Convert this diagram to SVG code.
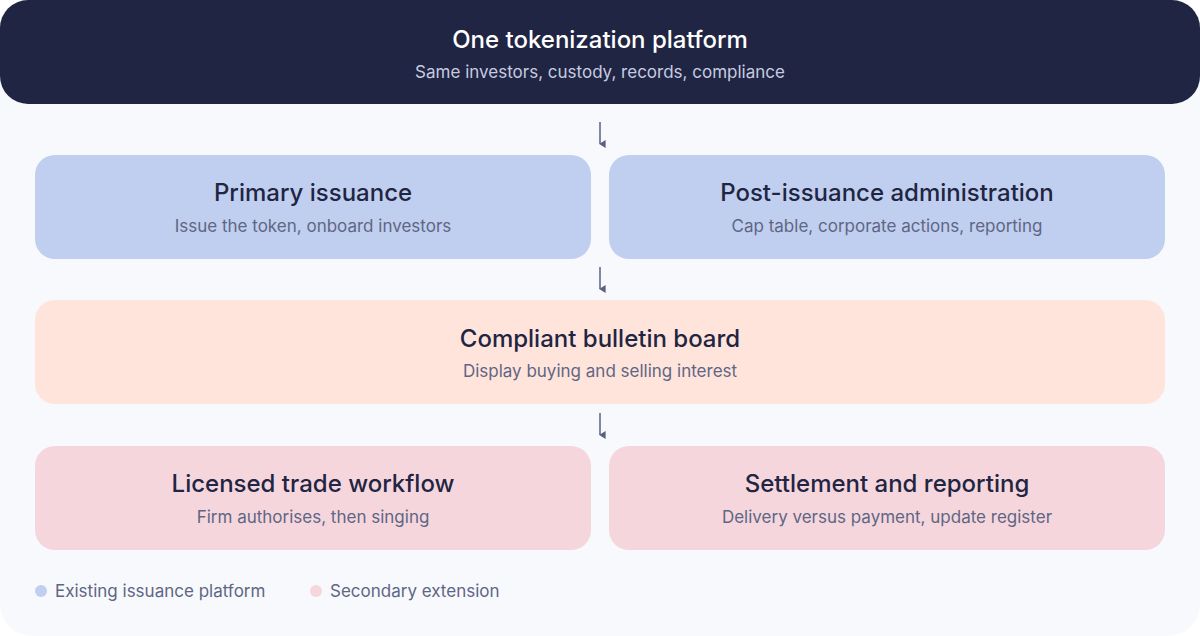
<svg xmlns="http://www.w3.org/2000/svg" width="1200" height="636" viewBox="0 0 1200 636">
<defs>
<style>
.t{font-family:Inter,"Noto Sans",sans-serif;font-size:24px;font-weight:500;fill:#1f2542;text-anchor:middle}
.s{font-family:Inter,"Noto Sans",sans-serif;font-size:17px;fill:#5f6684;text-anchor:middle}
.l{font-family:Inter,"Noto Sans",sans-serif;font-size:17px;fill:#5f6684}
.b{fill:#c0cfef}.p{fill:#ffe4dc}.r{fill:#f5d6dd}
.a{stroke:#5a6180;stroke-width:1.5;fill:none}
</style>
<marker id="ah" viewBox="0 0 10 10" refX="5" refY="9" markerWidth="8" markerHeight="8" orient="auto-start-reverse" markerUnits="userSpaceOnUse"><path d="M0,2 L10,2 L5,10 Z" fill="#5a6180"/></marker>
</defs>
<rect x="0" y="0" width="1200" height="636" fill="#ffffff"/>
<rect x="0" y="0" width="1200" height="636" rx="32" fill="#f7f9fd"/>
<g id="platform"><rect x="0" y="0" width="1200" height="104" rx="28" fill="#1f2542"/>
<text x="600" y="48" class="t" style="fill:#ffffff">One tokenization platform</text>
<text x="600" y="78" class="s" style="fill:#c7cbe0">Same investors, custody, records, compliance</text></g>
<g id="connectors">
<line x1="600" y1="122" x2="600" y2="144" class="a" marker-end="url(#ah)"/>
<line x1="600" y1="267" x2="600" y2="289" class="a" marker-end="url(#ah)"/>
<line x1="600" y1="413" x2="600" y2="435" class="a" marker-end="url(#ah)"/>
</g>
<g id="primary"><rect x="35" y="155" width="556" height="104" rx="20" class="b"/>
<text x="313" y="201" class="t">Primary issuance</text><text x="313" y="232" class="s">Issue the token, onboard investors</text></g>
<g id="post"><rect x="609" y="155" width="556" height="104" rx="20" class="b"/>
<text x="887" y="201" class="t">Post-issuance administration</text><text x="887" y="232" class="s">Cap table, corporate actions, reporting</text></g>
<g id="bulletin"><rect x="35" y="300" width="1130" height="104" rx="20" class="p"/>
<text x="600" y="347" class="t">Compliant bulletin board</text><text x="600" y="377" class="s">Display buying and selling interest</text></g>
<g id="trade"><rect x="35" y="446" width="556" height="104" rx="20" class="r"/>
<text x="313" y="492" class="t">Licensed trade workflow</text><text x="313" y="523" class="s">Firm authorises, then singing</text></g>
<g id="settlement"><rect x="609" y="446" width="556" height="104" rx="20" class="r"/>
<text x="887" y="492" class="t">Settlement and reporting</text><text x="887" y="523" class="s">Delivery versus payment, update register</text></g>
<g id="legend"><circle cx="41" cy="591" r="6" class="b"/><text x="55" y="597" class="l">Existing issuance platform</text>
<circle cx="316" cy="591" r="6" class="r"/><text x="330" y="597" class="l">Secondary extension</text></g>
</svg>
